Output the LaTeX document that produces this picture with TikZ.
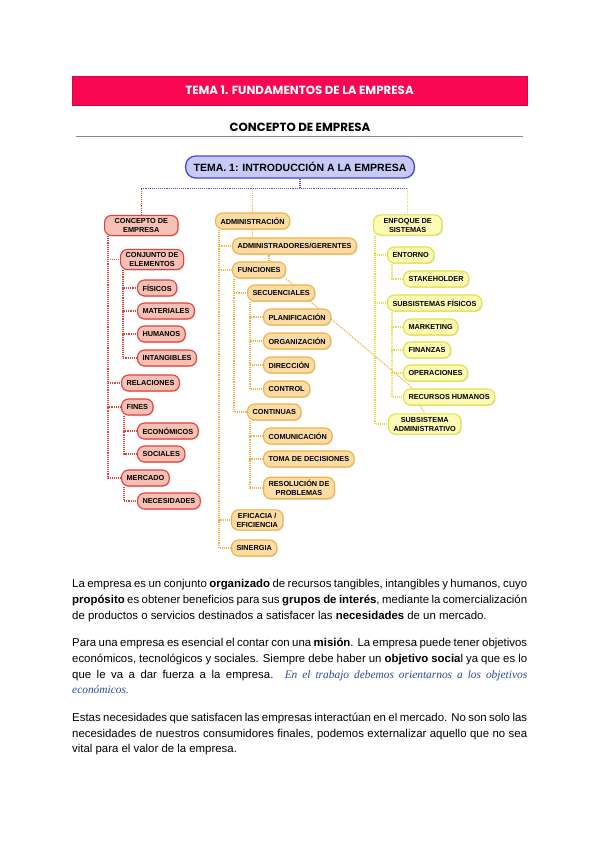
\documentclass[tikz,border=0pt]{standalone}
\usepackage{fontspec}
\setmainfont{Liberation Sans}
\newfontfamily\hdfont{Poppins}
\newfontfamily\notefont{Liberation Serif}
\usetikzlibrary{positioning,backgrounds,shadows}
\definecolor{hdr}{HTML}{FA0552}
\definecolor{redln}{HTML}{E5403A}
\definecolor{redfl}{HTML}{F7C0B4}
\definecolor{orgln}{HTML}{EFB445}
\definecolor{orgfl}{HTML}{FCDCA4}
\definecolor{ylwln}{HTML}{E2E244}
\definecolor{ylwfl}{HTML}{FCFAB4}
\definecolor{bluln}{HTML}{4A4ADD}
\definecolor{blufl}{HTML}{C5CAF6}
\definecolor{note}{HTML}{2D4A9C}
\newcommand{\fline}[1]{\makebox[455pt][s]{#1}}
\tikzset{
  box/.style={rounded corners=7pt, line width=1.1pt, anchor=west, align=center,
    font=\fontsize{7.3}{9}\selectfont\bfseries, inner xsep=5pt, inner ysep=3pt,
    minimum height=16pt, drop shadow={shadow xshift=1pt, shadow yshift=-1pt, opacity=.25}},
  rbox/.style={box, draw=redln, fill=redfl},
  obox/.style={box, draw=orgln, fill=orgfl},
  ybox/.style={box, draw=ylwln, fill=ylwfl},
  link/.style={densely dotted, line width=1.1pt},
  rlink/.style={link, redln},
  olink/.style={link, orgln},
  ylink/.style={link, ylwln},
  blink/.style={link, bluln},
  txt/.style={anchor=base west, inner sep=0pt, font=\fontsize{11.4}{15}\selectfont},
}
\begin{document}
\begin{tikzpicture}[x=1pt,y=-1pt]
  \useasboundingbox (0,0) rectangle (600,848);
  % headings
  \node[fill=hdr, draw=hdr!85!black, minimum width=455pt, minimum height=29pt,
        text=white, font=\hdfont\bfseries\fontsize{11.8}{13}\selectfont] (bar) at (299.5,90.5)
        {TEMA 1. FUNDAMENTOS DE LA EMPRESA};
  \node[font=\hdfont\bfseries\fontsize{11.8}{13}\selectfont] (sub) at (300,127) {CONCEPTO DE EMPRESA};
  \draw[black!45, line width=0.8pt] (76,136) -- (523,136);
  % map title
  \node[draw=bluln, fill=blufl, line width=1.3pt, rounded corners=10pt, minimum height=22pt,
        inner xsep=8pt, font=\fontsize{10.5}{12}\selectfont\bfseries,
        drop shadow={shadow xshift=1pt, shadow yshift=-1pt, opacity=.25}] (tema) at (300,167)
        {TEMA. 1: INTRODUCCI\'ON A LA EMPRESA};
  \coordinate (hub) at ([yshift=-10pt]tema.south);
  % concepto de empresa
  \node[rbox, inner xsep=10pt] (concepto) at (104,225.5) {CONCEPTO DE\\EMPRESA};
  \node[rbox] (conjunto) at (120,259.5) {CONJUNTO DE\\ELEMENTOS};
  \node[rbox] (fisicos) at (137,288) {FÍSICOS};
  \node[rbox] (materiales) at (137,311) {MATERIALES};
  \node[rbox] (humanos) at (137,334) {HUMANOS};
  \node[rbox] (intangibles) at (137,358) {INTANGIBLES};
  \node[rbox] (relaciones) at (121,383) {RELACIONES};
  \node[rbox] (fines) at (121,407) {FINES};
  \node[rbox] (economicos) at (137,431) {ECONÓMICOS};
  \node[rbox] (sociales) at (137,454) {SOCIALES};
  \node[rbox] (mercado) at (121,478) {MERCADO};
  \node[rbox] (necesidades) at (137,501) {NECESIDADES};
  % administracion
  \node[obox] (admin) at (215,221) {ADMINISTRACIÓN};
  \node[obox] (gerentes) at (232,246) {ADMINISTRADORES/GERENTES};
  \node[obox] (funciones) at (232,270) {FUNCIONES};
  \node[obox] (secuenciales) at (247,293) {SECUENCIALES};
  \node[obox] (planif) at (263,317) {PLANIFICACIÓN};
  \node[obox] (organiz) at (263,341) {ORGANIZACIÓN};
  \node[obox] (direccion) at (263,365) {DIRECCIÓN};
  \node[obox] (control) at (263,389) {CONTROL};
  \node[obox] (continuas) at (247,412) {CONTINUAS};
  \node[obox] (comunic) at (263,436) {COMUNICACIÓN};
  \node[obox] (toma) at (263,459) {TOMA DE DECISIONES};
  \node[obox] (resol) at (263,488) {RESOLUCIÓN DE\\PROBLEMAS};
  \node[obox] (eficacia) at (231,520) {EFICACIA /\\EFICIENCIA};
  \node[obox] (sinergia) at (231,548) {SINERGIA};
  % enfoque de sistemas
  \node[ybox, inner xsep=10pt] (enfoque) at (373,225) {ENFOQUE DE\\SISTEMAS};
  \node[ybox] (entorno) at (387,255) {ENTORNO};
  \node[ybox] (stake) at (403,279) {STAKEHOLDER};
  \node[ybox] (subfis) at (387,303) {SUBSISTEMAS FÍSICOS};
  \node[ybox] (marketing) at (403,327) {MARKETING};
  \node[ybox] (finanzas) at (403,350) {FINANZAS};
  \node[ybox] (operaciones) at (403,373) {OPERACIONES};
  \node[ybox] (rrhh) at (403,397) {RECURSOS HUMANOS};
  \node[ybox] (subadm) at (388,424) {SUBSISTEMA\\ADMINISTRATIVO};
  % connectors
  \begin{scope}[on background layer]
    \fill[white] (0,0) rectangle (600,848);
    \draw[blink] (tema.south) -- (hub);
    \draw[rlink] (hub -| concepto.north) -- (concepto.north);
    \draw[olink] (hub -| admin.north) -- (admin.north);
    \draw[ylink] (hub -| enfoque.north) -- (enfoque.north);
    \draw[blink] (hub -| concepto.north) -- (hub -| enfoque.north);
    \foreach \c in {conjunto,relaciones,fines,mercado}
      \draw[rlink] ([xshift=4pt]concepto.south west) |- (\c.west);
    \foreach \c in {fisicos,materiales,humanos,intangibles}
      \draw[rlink] ([xshift=3pt]conjunto.south west) |- (\c.west);
    \foreach \c in {economicos,sociales}
      \draw[rlink] ([xshift=3pt]fines.south west) |- (\c.west);
    \draw[rlink] ([xshift=3pt]mercado.south west) |- (necesidades.west);
    \foreach \c in {gerentes,funciones,eficacia,sinergia}
      \draw[olink] ([xshift=4pt]admin.south west) |- (\c.west);
    \foreach \c in {secuenciales,continuas}
      \draw[olink] ([xshift=2pt]funciones.south west) |- (\c.west);
    \foreach \c in {planif,organiz,direccion,control}
      \draw[olink] ([xshift=3pt]secuenciales.south west) |- (\c.west);
    \foreach \c in {comunic,toma,resol}
      \draw[olink] ([xshift=3pt]continuas.south west) |- (\c.west);
    \foreach \c in {entorno,subfis,subadm}
      \draw[ylink] ([xshift=2pt]enfoque.south west) |- (\c.west);
    \draw[ylink] ([xshift=5pt]entorno.south west) |- (stake.west);
    \foreach \c in {marketing,finanzas,operaciones,rrhh}
      \draw[ylink] ([xshift=5pt]subfis.south west) |- (\c.west);
    % cross links
    \draw[olink] (admin.south) -- (admin.south |- gerentes.north);
    \draw[olink] ([xshift=10pt]funciones.north) -- ([xshift=10pt]funciones.north |- gerentes.south);
    \draw[olink] (funciones.south east) -- ([xshift=12pt]secuenciales.north);
    \draw[olink] ([xshift=-5pt]secuenciales.south east) -- ([xshift=-15pt,yshift=28pt]subadm.north) -- (subadm.north);
  \end{scope}
  % text
  \node[txt] (p1a) at (72,587) {\fline{La empresa es un conjunto \textbf{organizado} de recursos tangibles, intangibles y humanos, cuyo}};
  \node[txt] (p1b) at (72,603) {\fline{\textbf{propósito} es obtener beneficios para sus \textbf{grupos de interés}, mediante la comercialización}};
  \node[txt] (p1c) at (72,619) {de productos o servicios destinados a satisfacer las \textbf{necesidades} de un mercado.};
  \node[txt] (p2a) at (72,646) {\fline{Para una empresa es esencial el contar con una \textbf{misión}. La empresa puede tener objetivos}};
  \node[txt] (p2b) at (72,662) {\fline{económicos, tecnológicos y sociales. Siempre debe haber un \textbf{objetivo socia}l ya que es lo}};
  \node[txt] (p2c) at (72,678) {\fline{que le va a dar fuerza a la empresa. {\notefont\itshape\color{note}En el trabajo debemos orientarnos a los objetivos}}};
  \node[txt] (p2d) at (72,693) {\notefont\itshape\color{note}económicos.};
  \node[txt] (p3a) at (72,721) {\fline{Estas necesidades que satisfacen las empresas interactúan en el mercado. No son solo las}};
  \node[txt] (p3b) at (72,737) {\fline{necesidades de nuestros consumidores finales, podemos externalizar aquello que no sea}};
  \node[txt] (p3c) at (72,752) {vital para el valor de la empresa.};
\end{tikzpicture}
\end{document}
